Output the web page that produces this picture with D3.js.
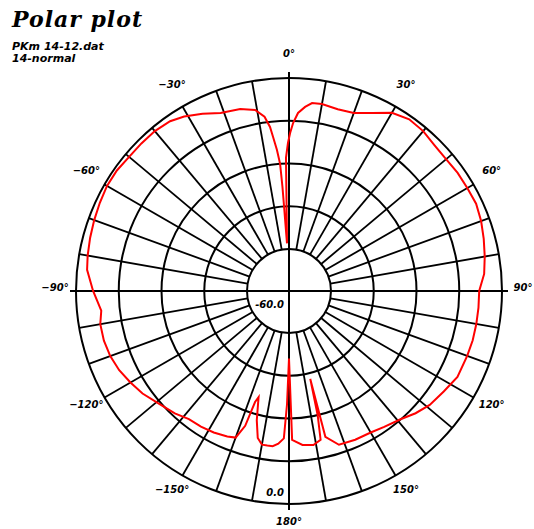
<!DOCTYPE html>
<html>
<head>
<meta charset="utf-8">
<script src="https://cdn.jsdelivr.net/npm/d3@7/dist/d3.min.js"></script>
<style>
  html, body { margin: 0; padding: 0; background: #fff; }
  svg { display: block; }
</style>
</head>
<body>
<script>
// ---- data ----
const titleText = "Polar plot";
const subtitleLines = ["PKm 14-12.dat", "14-normal"];
const angleTicks = [0, 30, 60, 90, 120, 150, 180, -150, -120, -90, -60, -30];
const angleTickLabels = ["0°", "30°", "60°", "90°", "120°", "150°", "180°", "−150°", "−120°", "−90°", "−60°", "−30°"];
const ringValues = [-60, -45, -30, -15, 0];
const radialLabels = ["-60.0", "0.0"];
const spokeStep = 10;

const patternAngles = [
  -180, -179, -178, -176, -174, -172, -170, -168, -166, -164, -163, -162, -160, -157, -152, -147, -142, -137, -131, -125,
  -120, -115, -110, -105, -100, -96, -90, -84, -80, -75, -70, -65, -60, -55, -50, -45, -40, -35, -31, -26,
  -21, -15, -10.6, -8, -6.6, -5.9, -4.9, -4, -3.6, -3.3, -2.4, -1.5, -1.3, -0.4, 0.4, 1.4, 2.9, 5, 7, 10,
  15, 20, 25, 30, 35, 40, 45, 50, 55, 60, 65, 70, 75, 80, 85, 90, 95, 100, 105, 110,
  117, 123, 129, 134, 139, 145, 150, 156, 162, 166, 166.4, 167, 168, 171, 175, 178.8, 180
];
const patternDb = [
  -51, -35, -23, -21, -20, -20, -20, -22, -28, -36, -34, -25, -20, -19.3, -18.5, -18, -17.7, -16, -14.4, -12,
  -10.5, -9, -8, -7.5, -7.5, -8.5, -6, -3.5, -3, -2.5, -2, -1.5, -1, -1, -1.5, -1.5, -1.5, -2, -3.3, -5.5,
  -7.8, -8.6, -10.1, -13, -16.8, -20.4, -25, -30, -38, -46, -58, -40, -28, -22.8, -19.3, -15.8, -12.2, -9.9, -8.3, -8.1,
  -8.7, -8.3, -5.8, -2.5, -1.2, -1.5, -2.5, -2.8, -2.5, -2.5, -2.3, -3, -4, -5, -6, -8, -8, -8, -8, -8.2,
  -8.4, -10, -11.2, -13, -15.1, -16.5, -17.4, -17.6, -18, -22, -43, -30, -21.4, -20, -20.5, -22.5, -51
];

// ---- layout ----
const W = 534, H = 529;
const cx = 289, cy = 291;
const rInner = 42, rOuter = 213, rAxis = 219, rLabel = 234;

const svg = d3.select("body").append("svg").attr("width", W).attr("height", H);

const r = d3.scaleLinear().domain([ringValues[0], ringValues[ringValues.length - 1]]).range([rInner, rOuter]);
const a = d3.scaleLinear().domain([0, 360]).range([0, 2 * Math.PI]);

const g = svg.append("g").attr("transform", `translate(${cx},${cy})`);

// rings
g.selectAll("circle.ring").data(ringValues).join("circle")
  .attr("class", "ring")
  .attr("r", d => r(d))
  .attr("fill", "none").attr("stroke", "#000").attr("stroke-width", 2);

// spokes
const spokes = d3.range(0, 360, spokeStep).filter(d => d % 90 !== 0);
g.selectAll("line.spoke").data(spokes).join("line")
  .attr("class", "spoke")
  .attr("x1", d => r(ringValues[0]) * Math.sin(a(d)))
  .attr("y1", d => -r(ringValues[0]) * Math.cos(a(d)))
  .attr("x2", d => r(ringValues[ringValues.length - 1]) * Math.sin(a(d)))
  .attr("y2", d => -r(ringValues[ringValues.length - 1]) * Math.cos(a(d)))
  .attr("stroke", "#000").attr("stroke-width", 1.8);

// main axes
[0, 90].forEach(d => {
  g.append("line")
    .attr("x1", -rAxis * Math.sin(a(d))).attr("y1", rAxis * Math.cos(a(d)))
    .attr("x2", rAxis * Math.sin(a(d))).attr("y2", -rAxis * Math.cos(a(d)))
    .attr("stroke", "#000").attr("stroke-width", 2);
});

// pattern
const pts = patternAngles.map((d, i) => [a(d), r(patternDb[i])]);
g.append("path")
  .attr("d", d3.lineRadial().curve(d3.curveLinearClosed)(pts))
  .attr("fill", "none").attr("stroke", "#ff0000").attr("stroke-width", 2);

// angle labels
g.selectAll("text.alab").data(angleTicks).join("text")
  .attr("class", "alab")
  .attr("x", d => rLabel * Math.sin(a(d)))
  .attr("y", d => -rLabel * Math.cos(a(d)) - 4)
  .attr("dy", "0.35em")
  .attr("text-anchor", "middle")
  .style("font-family", "'DejaVu Sans', sans-serif")
  .style("font-weight", "bold").style("font-style", "italic")
  .style("font-size", "10px")
  .text((d, i) => angleTickLabels[i]);

// radial labels
const labStyle = sel => sel.attr("text-anchor", "end")
  .style("font-family", "'DejaVu Sans', sans-serif")
  .style("font-weight", "bold").style("font-style", "italic").style("font-size", "10px");
g.append("text").attr("x", -5).attr("y", 17).call(labStyle).text(radialLabels[0]);
g.append("text").attr("x", -5).attr("y", r(ringValues[ringValues.length - 1]) - 8).call(labStyle).text(radialLabels[1]);

// titles
svg.append("text").attr("x", 12).attr("y", 27)
  .style("font-family", "'DejaVu Serif', serif")
  .style("font-weight", "bold").style("font-style", "italic")
  .style("font-size", "22px").style("letter-spacing", "1px")
  .text(titleText);
svg.selectAll("text.sub").data(subtitleLines).join("text")
  .attr("class", "sub")
  .attr("x", 12).attr("y", (d, i) => 50 + i * 12)
  .style("font-family", "'DejaVu Sans', sans-serif")
  .style("font-weight", "bold").style("font-style", "italic").style("font-size", "11px")
  .text(d => d);
</script>
</body>
</html>
